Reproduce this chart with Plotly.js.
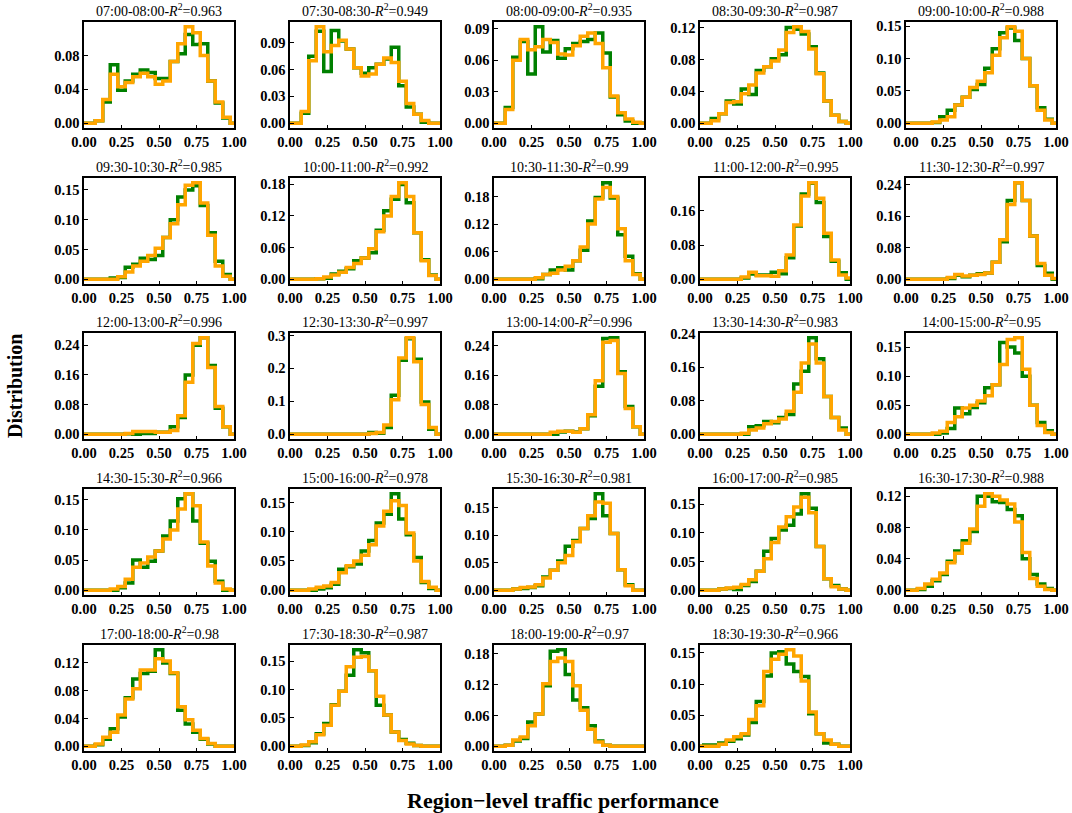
<!DOCTYPE html>
<html>
<head>
<meta charset="utf-8">
<script src="https://cdn.plot.ly/plotly-3.0.1.min.js"></script>
<style>
  html, body { margin: 0; padding: 0; background: #ffffff; }
  #chart { width: 1072px; height: 813px; }
</style>
</head>
<body>
<div id="chart"></div>
<script>
// ---------------- DATA ----------------
const xs = [0, 0.05, 0.1, 0.15, 0.2, 0.25, 0.3, 0.35, 0.4, 0.45, 0.5, 0.55, 0.6, 0.65, 0.7, 0.75, 0.8, 0.85, 0.9, 0.95, 1.0];

const periods = ["07:00-08:00", "07:30-08:30", "08:00-09:00", "08:30-09:30", "09:00-10:00",
                 "09:30-10:30", "10:00-11:00", "10:30-11:30", "11:00-12:00", "11:30-12:30",
                 "12:00-13:00", "12:30-13:30", "13:00-14:00", "13:30-14:30", "14:00-15:00",
                 "14:30-15:30", "15:00-16:00", "15:30-16:30", "16:00-17:00", "16:30-17:30",
                 "17:00-18:00", "17:30-18:30", "18:00-19:00", "18:30-19:30"];
const r2Values = ["0.963", "0.949", "0.935", "0.987", "0.988",
                  "0.985", "0.992", "0.99", "0.995", "0.997",
                  "0.996", "0.997", "0.996", "0.983", "0.95",
                  "0.966", "0.978", "0.981", "0.985", "0.988",
                  "0.98", "0.987", "0.97", "0.966"];
const yTickSteps = [0.04, 0.03, 0.03, 0.04, 0.05,
                    0.05, 0.06, 0.06, 0.08, 0.08,
                    0.08, 0.1, 0.08, 0.08, 0.05,
                    0.05, 0.05, 0.05, 0.05, 0.04,
                    0.04, 0.05, 0.06, 0.05];
const yTickDecimals = [2,2,2,2,2, 2,2,2,2,2, 2,1,2,2,2, 2,2,2,2,2, 2,2,2,2];
const xTickVals = [0, 0.25, 0.5, 0.75, 1.0];

// green = observed distribution, orange = fitted distribution
const g1  = [0,0,0.003,0.025,0.069,0.039,0.05,0.058,0.063,0.06,0.053,0.053,0.073,0.082,0.105,0.093,0.094,0.05,0.024,0.006,0];
const o1  = [0,0,0.003,0.028,0.058,0.043,0.048,0.055,0.059,0.055,0.046,0.05,0.073,0.094,0.114,0.107,0.08,0.05,0.025,0.007,0];
const g2  = [0,0,0.011,0.075,0.103,0.058,0.104,0.092,0.083,0.062,0.056,0.062,0.066,0.072,0.085,0.042,0.018,0.01,0.001,0,0];
const o2  = [0,0,0.013,0.07,0.108,0.08,0.087,0.093,0.083,0.062,0.053,0.055,0.066,0.073,0.068,0.047,0.022,0.01,0.003,0,0];
const g3  = [0,0,0.015,0.063,0.078,0.047,0.092,0.068,0.079,0.062,0.071,0.076,0.078,0.08,0.086,0.067,0.025,0.008,0.002,0,0];
const o3  = [0,0,0.013,0.06,0.08,0.07,0.073,0.08,0.077,0.066,0.065,0.074,0.083,0.086,0.076,0.053,0.026,0.01,0.004,0.001,0];
const g4  = [0,0,0.006,0.012,0.028,0.024,0.043,0.036,0.066,0.071,0.081,0.086,0.12,0.118,0.112,0.096,0.063,0.028,0.01,0.002,0];
const o4  = [0,0,0.003,0.012,0.026,0.027,0.037,0.048,0.063,0.071,0.078,0.092,0.114,0.121,0.115,0.093,0.062,0.028,0.01,0.002,0];
const g5  = [0,0,0,0,0.001,0.01,0.02,0.028,0.04,0.052,0.06,0.085,0.115,0.14,0.147,0.128,0.1,0.058,0.024,0.006,0];
const o5  = [0,0,0,0,0.002,0.005,0.01,0.028,0.04,0.055,0.065,0.078,0.105,0.132,0.149,0.142,0.1,0.058,0.02,0.005,0];
const g6  = [0,0,0,0,0.002,0.003,0.02,0.025,0.035,0.033,0.04,0.07,0.1,0.138,0.15,0.157,0.124,0.078,0.03,0.008,0];
const o6  = [0,0,0,0,0,0.004,0.012,0.022,0.03,0.04,0.052,0.07,0.093,0.125,0.158,0.162,0.128,0.074,0.022,0.005,0];
const g7  = [0,0,0,0,0.001,0.002,0.01,0.015,0.02,0.035,0.04,0.05,0.093,0.13,0.152,0.18,0.145,0.088,0.037,0.008,0];
const o7  = [0,0,0,0,0.001,0.004,0.008,0.013,0.022,0.03,0.04,0.058,0.09,0.12,0.157,0.183,0.157,0.088,0.035,0.007,0];
const g8  = [0,0,0,0,0,0,0.001,0.01,0.02,0.025,0.02,0.04,0.063,0.127,0.178,0.21,0.177,0.097,0.05,0.012,0];
const o8  = [0,0,0,0,0,0,0.003,0.01,0.013,0.02,0.028,0.04,0.07,0.12,0.175,0.2,0.18,0.11,0.04,0.01,0];
const g9  = [0,0,0,0,0,0,0.003,0.012,0.01,0.01,0.016,0.013,0.05,0.125,0.2,0.225,0.18,0.1,0.042,0.015,0];
const o9  = [0,0,0,0,0,0,0.005,0.016,0.008,0.008,0.007,0.02,0.057,0.127,0.195,0.226,0.19,0.108,0.045,0.01,0.003];
const g10 = [0,0,0,0,0,0,0.002,0.01,0.006,0.01,0.014,0.016,0.043,0.095,0.2,0.245,0.2,0.11,0.035,0.015,0];
const o10 = [0,0,0,0,0,0,0.004,0.012,0.008,0.01,0.012,0.016,0.043,0.1,0.19,0.245,0.2,0.11,0.04,0.01,0.002];
const g11 = [0,0,0,0,0,0,0.001,0,0.002,0.002,0.005,0.005,0.02,0.045,0.16,0.24,0.26,0.185,0.07,0.02,0];
const o11 = [0,0,0,0,0,0,0.002,0.007,0.007,0.007,0.005,0.005,0.01,0.05,0.14,0.245,0.26,0.18,0.075,0.02,0];
const g12 = [0,0,0,0,0,0,0,0,0,0,0,0.005,0.003,0.02,0.118,0.225,0.29,0.228,0.098,0.015,0];
const o12 = [0,0,0,0,0,0,0,0,0,0,0,0.002,0.005,0.028,0.105,0.232,0.293,0.22,0.09,0.02,0];
const g13 = [0,0,0,0,0,0,0,0,0,0.006,0.008,0.006,0.015,0.05,0.13,0.26,0.262,0.17,0.075,0.02,0];
const o13 = [0,0,0,0,0,0,0,0,0.005,0.008,0.008,0.005,0.015,0.053,0.145,0.25,0.255,0.165,0.07,0.02,0];
const g14 = [0,0,0,0,0,0,0,0.018,0.02,0.03,0.027,0.04,0.047,0.12,0.15,0.23,0.18,0.09,0.04,0.015,0];
const o14 = [0,0,0,0,0,0,0.002,0.01,0.015,0.025,0.03,0.036,0.055,0.1,0.17,0.215,0.17,0.09,0.04,0.01,0];
const g15 = [0,0,0,0,0,0.002,0.01,0.045,0.035,0.046,0.054,0.08,0.085,0.158,0.15,0.14,0.1,0.05,0.02,0.006,0];
const o15 = [0,0,0,0,0.002,0.005,0.02,0.03,0.045,0.05,0.057,0.066,0.085,0.12,0.163,0.166,0.112,0.05,0.015,0.003,0];
const g16 = [0,0,0,0,0,0.004,0.012,0.05,0.038,0.048,0.065,0.09,0.115,0.152,0.16,0.115,0.078,0.048,0.015,0,0];
const o16 = [0,0,0,0,0.002,0.006,0.018,0.038,0.045,0.055,0.065,0.085,0.1,0.135,0.16,0.14,0.08,0.04,0.012,0.002,0];
const g17 = [0,0,0,0,0.002,0.004,0.01,0.036,0.04,0.045,0.067,0.085,0.115,0.13,0.165,0.122,0.095,0.056,0.013,0.003,0];
const o17 = [0,0,0,0.002,0.005,0.007,0.013,0.03,0.042,0.05,0.06,0.078,0.11,0.135,0.153,0.145,0.098,0.05,0.015,0.005,0];
const g18 = [0,0,0,0.002,0.003,0.005,0.008,0.024,0.036,0.053,0.08,0.09,0.112,0.13,0.175,0.135,0.103,0.037,0.01,0,0];
const o18 = [0,0,0,0.002,0.005,0.006,0.01,0.022,0.036,0.05,0.063,0.088,0.112,0.135,0.16,0.158,0.103,0.037,0.008,0,0];
const g19 = [0,0,0,0.002,0.003,0.001,0.008,0.015,0.033,0.068,0.09,0.105,0.113,0.133,0.168,0.143,0.076,0.02,0.008,0.002,0];
const o19 = [0,0,0,0.002,0.004,0.005,0.01,0.018,0.033,0.055,0.083,0.11,0.128,0.145,0.162,0.135,0.076,0.02,0.006,0.002,0];
const g20 = [0,0,0.001,0.005,0.012,0.02,0.037,0.05,0.063,0.075,0.12,0.12,0.113,0.112,0.103,0.095,0.04,0.02,0.008,0.002,0];
const o20 = [0,0,0.002,0.008,0.014,0.022,0.035,0.047,0.06,0.078,0.107,0.123,0.12,0.115,0.11,0.087,0.048,0.015,0.005,0.001,0];
const g21 = [0,0,0.002,0.01,0.025,0.042,0.07,0.097,0.105,0.108,0.139,0.12,0.105,0.052,0.032,0.02,0.01,0.003,0,0,0];
const o21 = [0,0,0.003,0.013,0.02,0.045,0.068,0.083,0.11,0.11,0.126,0.123,0.106,0.057,0.038,0.023,0.011,0.004,0,0,0];
const g22 = [0,0,0.001,0.006,0.022,0.04,0.073,0.097,0.125,0.17,0.165,0.133,0.072,0.055,0.025,0.012,0.005,0.001,0,0,0];
const o22 = [0,0,0.002,0.008,0.02,0.037,0.072,0.097,0.14,0.157,0.158,0.133,0.088,0.055,0.025,0.01,0.004,0.001,0,0,0];
const g23 = [0,0,0.002,0.01,0.015,0.047,0.063,0.118,0.185,0.188,0.14,0.09,0.075,0.04,0.01,0.002,0,0,0,0,0];
const o23 = [0,0,0.002,0.012,0.018,0.04,0.063,0.122,0.165,0.172,0.165,0.118,0.07,0.033,0.008,0.002,0,0,0,0,0];
const g24 = [0,0.002,0.002,0.005,0.008,0.012,0.018,0.038,0.072,0.113,0.15,0.152,0.132,0.12,0.112,0.052,0.02,0.005,0.003,0,0];
const o24 = [0,0,0,0.003,0.01,0.015,0.02,0.043,0.065,0.12,0.14,0.148,0.155,0.145,0.105,0.055,0.02,0.01,0.003,0,0];

const greenList  = [g1,g2,g3,g4,g5,g6,g7,g8,g9,g10,g11,g12,g13,g14,g15,g16,g17,g18,g19,g20,g21,g22,g23,g24];
const orangeList = [o1,o2,o3,o4,o5,o6,o7,o8,o9,o10,o11,o12,o13,o14,o15,o16,o17,o18,o19,o20,o21,o22,o23,o24];

// ---------------- LAYOUT ----------------
const W = 1072, H = 813;
const colLeft = [84, 290, 494, 700, 906];
const panelW = 150;
const rowTop = [22, 178, 333, 489, 645];
const panelH = 106;

const SERIF = "Liberation Serif, Times New Roman, serif";
const GREEN = "#008000";
const ORANGE = "#FFA500";

const traces = [];
const layout = {
  width: W, height: H,
  margin: {l: 0, r: 0, t: 0, b: 0},
  paper_bgcolor: "#ffffff",
  plot_bgcolor: "#ffffff",
  showlegend: false,
  annotations: []
};

for (let i = 0; i < periods.length; i++) {
  const row = Math.floor(i / 5), col = i % 5;
  const n = i + 1;
  const xa = "x" + (n === 1 ? "" : n);
  const ya = "y" + (n === 1 ? "" : n);
  const g = greenList[i], o = orangeList[i];

  traces.push({x: xs, y: g, xaxis: xa, yaxis: ya, type: "scatter", mode: "lines",
               line: {color: GREEN, width: 3.5, shape: "hvh"}, hoverinfo: "skip"});
  traces.push({x: xs, y: o, xaxis: xa, yaxis: ya, type: "scatter", mode: "lines",
               line: {color: ORANGE, width: 3.5, shape: "hvh"}, hoverinfo: "skip"});

  const m = Math.max(Math.max.apply(null, g), Math.max.apply(null, o));
  const x0 = colLeft[col] / W, x1 = (colLeft[col] + panelW) / W;
  const y1 = 1 - rowTop[row] / H, y0 = 1 - (rowTop[row] + panelH) / H;

  const axisCommon = {
    showgrid: false, zeroline: false,
    showline: true, mirror: true, linecolor: "#000000", linewidth: 1.6,
    ticks: "inside", ticklen: 3.5, tickwidth: 1, tickcolor: "#000000",
    tickfont: {family: SERIF, size: 14.5, color: "#000000", weight: "bold"},
    fixedrange: true
  };
  layout["xaxis" + (n === 1 ? "" : n)] = Object.assign({}, axisCommon, {
    domain: [x0, x1], anchor: ya, range: [0, 1],
    tickmode: "array", tickvals: xTickVals, tickformat: ".2f"
  });
  layout["yaxis" + (n === 1 ? "" : n)] = Object.assign({}, axisCommon, {
    domain: [y0, y1], anchor: xa, range: [-0.05 * m, 1.05 * m],
    tickmode: "linear", tick0: 0, dtick: yTickSteps[i],
    tickformat: "." + yTickDecimals[i] + "f"
  });

  layout.annotations.push({
    xref: "paper", yref: "paper", x: (x0 + x1) / 2, y: y1,
    xanchor: "center", yanchor: "bottom", yshift: 1, showarrow: false,
    text: periods[i] + "-<i>R</i><sup>2</sup>=" + r2Values[i],
    font: {family: SERIF, size: 14, color: "#000000"}
  });
}

layout.annotations.push({
  xref: "paper", yref: "paper", x: 15 / W, y: 1 - 386 / H,
  xanchor: "center", yanchor: "middle", showarrow: false, textangle: -90,
  text: "Distribution",
  font: {family: SERIF, size: 20, color: "#000000", weight: "bold"}
});
layout.annotations.push({
  xref: "paper", yref: "paper", x: 563 / W, y: 1 - 800 / H,
  xanchor: "center", yanchor: "middle", showarrow: false,
  text: "Region\u2212level traffic performance",
  font: {family: SERIF, size: 22, color: "#000000", weight: "bold"}
});

Plotly.newPlot("chart", traces, layout, {staticPlot: true, displayModeBar: false});
</script>
</body>
</html>
